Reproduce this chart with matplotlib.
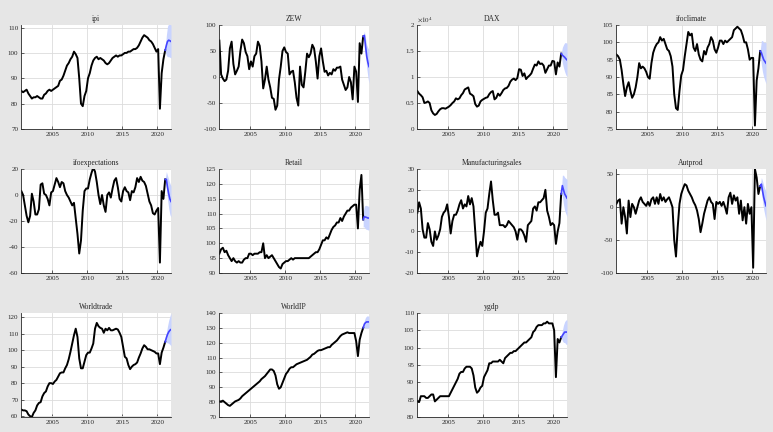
import numpy as np
import matplotlib
matplotlib.use('Agg')
import matplotlib.pyplot as plt

# quarterly readings: 2000.60, 2000.85, then 2001.10 .. 2020.85, then 2021.10
t_start = 2000.6
t_step = 0.25

ipi = [85, 84.5,
       85, 85.5, 84, 83,   82, 82.5, 82.5, 83,   82.5, 82, 82, 83.5,   84, 85, 85.5, 85,
       85.5, 86, 86.5, 87,   89, 89.5, 91, 93,   95, 96, 97.5, 98.5,   100.5, 99.5, 98, 90,
       80, 79, 83, 85,   90, 92, 95, 97,   98, 98.5, 97.5, 98,   97.5, 97, 96, 95.5,
       96, 97, 98, 98.5,   99, 98.5, 99, 99,   99.5, 100, 100, 100.5,   100.5, 101, 101.5, 101.5,
       102, 103, 104.5, 106,   107, 106.5, 106, 105,   104.5, 103.5, 102, 100.5,   101.5, 78, 92, 97.5,
       101]
zew = [70, 5,
       -3, -8, -5, 12,   55, 68, 25, 5,   12, 20, 50, 72,   65, 48, 40, 15,
       30, 20, 40, 45,   68, 60, 30, -22,   -5, 20, -5, -20,   -40, -42, -63, -55,
       -5, 20, 50, 57,   48, 45, 5, 10,   12, -10, -40, -55,   20, -15, -20, 10,
       45, 38, 45, 62,   55, 30, -3, 40,   55, 30, 10, 12,   3, 8, 5, 15,
       12, 18, 18, 20,   -5, -15, -25, -20,   0, -10, -43, 20,   10, -48, 65, 45,
       78]
dax = [7300, 6800,
       6500, 6100, 5000, 5100,   5300, 5000, 3600, 3000,   2700, 2900, 3400, 3800,   4000, 4000, 3900, 4100,
       4300, 4600, 5000, 5300,   5900, 5700, 5900, 6500,   6900, 7600, 7800, 8000,   6800, 6600, 6300, 4800,
       4300, 4500, 5300, 5600,   5800, 6000, 6100, 6700,   7100, 7300, 5700, 6000,   6800, 6400, 6900, 7500,
       7800, 7900, 8300, 9100,   9500, 9700, 9400, 9800,   11500, 11400, 10200, 10700,   9600, 10000, 10300, 10700,
       11600, 12400, 12200, 13000,   12500, 12600, 12200, 10800,   11500, 12200, 12200, 13100,   13000, 10500, 12800, 12000,
       14500]
ifoclimate = [96.5, 96,
              95, 92, 88, 84.5,   87, 88.5, 86, 84,   85, 87, 90, 94,   92.5, 93, 92.5, 91.5,
              90, 89.5, 94, 97,   98.5, 99.5, 100, 101.5,   100.5, 101, 99.5, 98,   97.5, 96, 93, 85,
              81, 80.5, 86, 90.5,   92, 96, 99.5, 103,   102, 102.5, 98.5, 97.5,   99.5, 96.5, 95, 94.5,
              97.5, 96.5, 98.5, 99.5,   101.5, 100.5, 98, 97,   98.5, 100.5, 100.5, 99.5,   100.5, 100, 100.5, 101,
              101.5, 103.5, 104, 104.5,   104, 103.5, 102, 100,   100, 98, 95, 95.5,   95.5, 76, 89, 92.5,
              97.5]
ifoexpectations = [3, 0,
                   -8, -16, -21, -16,   1, -5, -15, -15,   -11, 8, 9, 1,   0, -3, -8, 2,
                   3, 8, 13, 10,   6, 10, 9, 3,   0, -2, -5, -8,   -6, -18, -30, -45,
                   -35, -12, 3, 5,   5, 12, 17, 21,   18, 10, 0, -7,   0, -8, -13, 0,
                   2, -2, 5, 11,   13, 6, -3, -5,   3, 6, 3, 2,   -4, 3, 2, 6,
                   13, 10, 14, 11,   10, 7, 1, -5,   -8, -14, -15, -12,   -10, -52, 3, -3,
                   12]
retail = [96.5, 98,
          98.5, 97, 97.5, 96,   95, 94, 95, 94,   93.5, 94, 93.5, 93.5,   94.5, 95, 95, 96.5,
          96.5, 96, 96.5, 96.5,   96.5, 97, 97, 100,   95, 96, 95, 95.5,   96, 95, 94, 93,
          92, 91.5, 93, 93.5,   94, 94, 94.5, 95,   94.5, 95, 95, 95,   95, 95, 95, 95,
          95, 95, 95.5, 96,   96.5, 97, 97, 98,   99.5, 101, 101, 102,   101.5, 103, 104.5, 105.5,
          106, 107, 107, 108.5,   107.5, 109, 110, 111,   111, 112, 112.5, 113,   113, 105, 118, 123,
          108]
manufacturingsales = [9, 14,
                      11, 1, -3, -3,   4, 1, -5, -7,   0, -4, -2, 1,   7, 9, 10, 13,
                      7, -1, 5, 8,   8, 10, 13, 15,   11, 13, 12, 17,   13, 16, 12, 0,
                      -12, -8, -5, -7,   0, 9, 11, 18,   24, 15, 8, 8,   9, 3, 3, 3,
                      2, 3, 5, 4,   3, 2, 0, -4,   1, 1, 0, -2,   -5, 3, 4, 5,
                      11, 12, 10, 14,   14, 15, 16, 20,   10, 7, 3, 4,   3, -6, 0, 4,
                      18]
autprod = [5, 10,
           12, -25, 0, -15,   -40, 10, -15, 5,   0, -10, 0, 10,   15, 8, 5, 2,
           8, 2, 12, 15,   5, 15, 5, 20,   10, 15, 8, 12,   15, 8, 0, -50,
           -75, -30, 5, 20,   28, 35, 33, 25,   20, 15, 8, 3,   -5, -18, -38, -25,
           -10, 0, 10, 15,   8, 5, -18, 8,   5, 8, 2, 8,   0, -10, 15, 22,
           5, 18, 10, 15,   -10, 10, -20, 0,   -25, 5, -10, 0,   -92, 58, 45, 20,
           32]
worldtrade = [64, 63.5,
              63.5, 63, 61, 60,   59.5, 62, 63.5, 66.5,   68, 68.5, 72, 74,   75, 78, 80, 80,
              79.5, 81, 82, 84,   86, 86.5, 86.5, 89,   91, 94.5, 99, 104,   109, 113, 108, 95,
              89, 89, 93, 97,   98.5, 98.5, 101, 104,   113, 116.5, 114.5, 113.5,   113, 110.5, 113, 112,
              113.5, 112, 112, 112.5,   113, 112.5, 110.5, 108,   102, 96, 95, 91,   88.5, 90, 91, 91.5,
              92.5, 95.5, 98, 101,   103, 102, 100.5, 100.5,   100, 99.5, 99, 98,   98, 91.5, 98.5, 101.5,
              105]
worldip = [80.5, 80.5,
           81, 80, 79, 78,   77.5, 78.5, 79.5, 80.5,   81, 81.5, 82.5, 84,   85, 86, 87, 88,
           89, 90, 91, 92,   93, 94, 95.5, 96.5,   97.5, 99, 100.5, 102,   102, 101, 98, 92,
           89, 90, 93, 96,   99, 100.5, 102.5, 103.5,   103.5, 104.5, 105.5, 106,   106.5, 107, 107.5, 108,
           108.5, 109.5, 110.5, 112,   112.5, 113.5, 114.5, 115,   115, 115.5, 116, 116.5,   117, 117, 118.5, 119.5,
           120.5, 121.5, 123, 124.5,   125.5, 126, 126.5, 127,   126.5, 126.5, 126.5, 126.5,   121, 111, 122, 126.5,
           130]
ygdp = [84.5, 84.3,
        86, 86, 86, 85.5,   85.5, 86, 86.5, 86.5,   84.5, 85, 85.5, 86,   86, 86, 86, 86,
        86, 87, 88, 89,   90, 91, 92.5, 93,   93, 94, 94.5, 94.5,   94.5, 94, 92, 88.5,
        87, 87.5, 88.5, 89,   91.5, 92.5, 93.5, 95.5,   95.5, 96, 96, 96,   96, 96.5, 96, 95.5,
        97, 97.5, 98, 98.5,   98.5, 99, 99, 99.5,   100, 100.5, 101, 101.5,   101.5, 102, 102.5, 103,
        104.5, 105, 106, 106.5,   106.5, 106.5, 107, 107,   107.5, 107, 107, 107,   105, 91.5, 102.5, 101.5,
        103]

# forecast path and band half-width
fc_time = [2021.1, 2021.27, 2021.43, 2021.6, 2021.77, 2021.93]
fc = {
    'ipi': ([101, 103, 104.5, 105, 104.8, 104.5], [0, 4, 6, 6.5, 6.5, 6.5]),
    'ZEW': ([78, 80, 60, 40, 28, 20], [0, 8, 15, 22, 28, 33]),
    'DAX': ([14500, 14200, 14000, 13800, 13500, 13300], [0, 1500, 2200, 2800, 3100, 3200]),
    'ifoclimate': ([97.5, 97, 96, 95, 94.5, 94], [0, 3.5, 4.5, 5, 5.5, 6]),
    'ifoexpectations': ([12, 12, 6, 1, -3, -5], [0, 6, 9, 11, 12, 12]),
    'Retail': ([108, 109, 108.8, 108.7, 108.5, 108.5], [2.5, 3.5, 4, 4, 4, 4]),
    'Manufacturingsales': ([18, 22, 20, 18, 17, 16], [0, 5, 7, 8, 8.5, 9]),
    'Autprod': ([32, 35, 25, 15, 8, 2], [0, 10, 15, 18, 20, 22]),
    'Worldtrade': ([105, 107.5, 109.5, 111, 112, 112.5], [0, 3, 5, 7, 8.5, 10]),
    'WorldIP': ([130, 132.5, 133.5, 134, 134, 134], [0, 2.5, 3.5, 4, 4, 4]),
    'ygdp': ([103, 103.5, 104, 104.5, 104.5, 104.5], [0, 1.5, 2.5, 3, 3.5, 3.5]),
}

titles = ['ipi', 'ZEW', 'DAX', 'ifoclimate', 'ifoexpectations', 'Retail',
          'Manufacturingsales', 'Autprod', 'Worldtrade', 'WorldIP', 'ygdp']
series = [ipi, zew, dax, ifoclimate, ifoexpectations, retail,
          manufacturingsales, autprod, worldtrade, worldip, ygdp]
ylims = [(70, 111), (-100, 100), (0, 20000), (75, 105), (-60, 20), (90, 125),
         (-20, 30), (-100, 58), (59.5, 122.5), (70, 140), (80, 110)]
ystep = [10, 50, 5000, 5, 20, 5, 10, 50, 10, 10, 5]

plt.rcParams['font.family'] = ['Liberation Serif', 'DejaVu Serif']
plt.rcParams['mathtext.fontset'] = 'stix'

fig = plt.figure(figsize=(7.73, 4.32), dpi=100, facecolor='#e6e6e6')

col_left = [21, 219, 417, 616]
row_top = [25, 169, 313]
W, H = 150, 104

for i, name in enumerate(titles):
    r, c = divmod(i, 4)
    ax = fig.add_axes([col_left[c] / 773, 1 - (row_top[r] + H) / 432, W / 773, H / 432])
    y = np.array(series[i], dtype=float)
    t = t_start + t_step * np.arange(len(y))
    fv, hw = fc[name]
    fv = np.array(fv, dtype=float)
    hw = np.array(hw, dtype=float)
    scale = 1e4 if name == 'DAX' else 1.0

    ax.fill_between(fc_time, (fv - hw) / scale, (fv + hw) / scale,
                    color='#c9d4ff', lw=0)
    ax.plot(t, y / scale, color='black', lw=1.4)
    ax.plot(fc_time, fv / scale, color='#4444ff', lw=1.2)

    lo, hi = ylims[i]
    ax.set_ylim(lo / scale, hi / scale)
    st = ystep[i]
    ticks = np.arange(np.ceil(lo / st) * st, hi + 1e-9, st)
    ax.set_yticks(ticks / scale)
    if name == 'DAX':
        ax.set_yticklabels(['0', '0.5', '1', '1.5', '2'])
        ax.text(0.0, 1.005, r'$\times10^{4}$', transform=ax.transAxes,
                fontsize=5, va='bottom', ha='left', color='#262626')
    else:
        ax.set_yticklabels(['%g' % v for v in ticks])

    ax.set_xlim(2000.55, 2021.93)
    ax.set_xticks([2005, 2010, 2015, 2020])
    ax.grid(True, color='#dcdcdc', lw=0.6)
    ax.set_axisbelow(True)
    for s in ['top', 'right']:
        ax.spines[s].set_visible(False)
    for s in ['left', 'bottom']:
        ax.spines[s].set_color('#262626')
        ax.spines[s].set_linewidth(0.6)
    ax.tick_params(direction='in', length=2, width=0.5, labelsize=5,
                   colors='#262626', pad=2)
    ax.set_title(name, fontsize=5.5, pad=3, color='#262626')

fig.savefig('out.png', dpi=100, facecolor=fig.get_facecolor())
